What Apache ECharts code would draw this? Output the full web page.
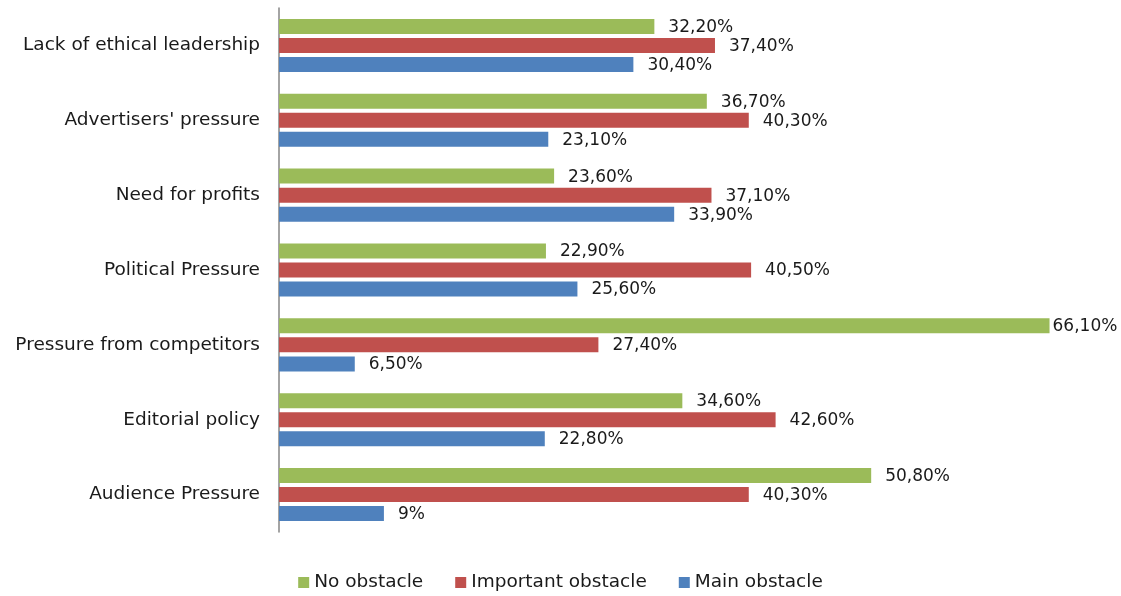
<!DOCTYPE html>
<html>
<head>
<meta charset="utf-8">
<script src="https://cdn.jsdelivr.net/npm/echarts@6/dist/echarts.min.js"></script>
<style>
  html, body { margin: 0; padding: 0; background: #fff; }
  #chart { width: 1121px; height: 596px; }
</style>
</head>
<body>
<div id="chart"></div>
<script>
// categories top to bottom
var categories = [
  'Lack of ethical leadership',
  "Advertisers' pressure",
  'Need for profits',
  'Political Pressure',
  'Pressure from competitors',
  'Editorial policy',
  'Audience Pressure'
];
var noObstacle        = [32.2, 36.7, 23.6, 22.9, 66.1, 34.6, 50.8];
var importantObstacle = [37.4, 40.3, 37.1, 40.5, 27.4, 42.6, 40.3];
var mainObstacle      = [30.4, 23.1, 33.9, 25.6, 6.5, 22.8, 9];

var font = 'DejaVu Sans';

function fmt(p) {   // 32.2 -> "32,20%", 9 -> "9%"
  var v = p.value;
  if (Number.isInteger(v)) return v + '%';
  return v.toFixed(2).replace('.', ',') + '%';
}

function mkSeries(name, data, color) {
  return {
    name: name,
    type: 'bar',
    // long bars get their label pulled in tight so it fits the page
    data: data.map(function (v) {
      return v > 60 ? { value: v, label: { distance: 3 } } : v;
    }),
    barWidth: 15,
    barGap: '27%',
    itemStyle: { color: color },
    label: {
      show: true,
      position: 'right',
      distance: 14,
      offset: [0, 1],
      formatter: fmt,
      color: '#1a1a1a',
      fontFamily: font,
      fontSize: 17
    }
  };
}

var chart = echarts.init(document.getElementById('chart'));
chart.setOption({
  animation: false,
  grid: { left: 279, top: 8, width: 816, height: 524, containLabel: false },
  legend: {
    top: 568,
    left: 'center',
    itemWidth: 11,
    itemHeight: 11,
    itemGap: 32,
    icon: 'rect',
    data: ['No obstacle', 'Important obstacle', 'Main obstacle'],
    textStyle: { fontFamily: font, fontSize: 18.5, color: '#1a1a1a' }
  },
  xAxis: {
    type: 'value',
    min: 0,
    max: 70,
    show: false
  },
  yAxis: {
    type: 'category',
    data: categories,
    inverse: true,
    axisLine: { lineStyle: { color: '#868686', width: 1.5 } },
    axisTick: { show: false },
    axisLabel: { fontFamily: font, fontSize: 18.5, color: '#1a1a1a', margin: 19 }
  },
  series: [
    mkSeries('No obstacle', noObstacle, '#9BBB59'),
    mkSeries('Important obstacle', importantObstacle, '#C0504D'),
    mkSeries('Main obstacle', mainObstacle, '#4F81BD')
  ]
});
</script>
</body>
</html>
